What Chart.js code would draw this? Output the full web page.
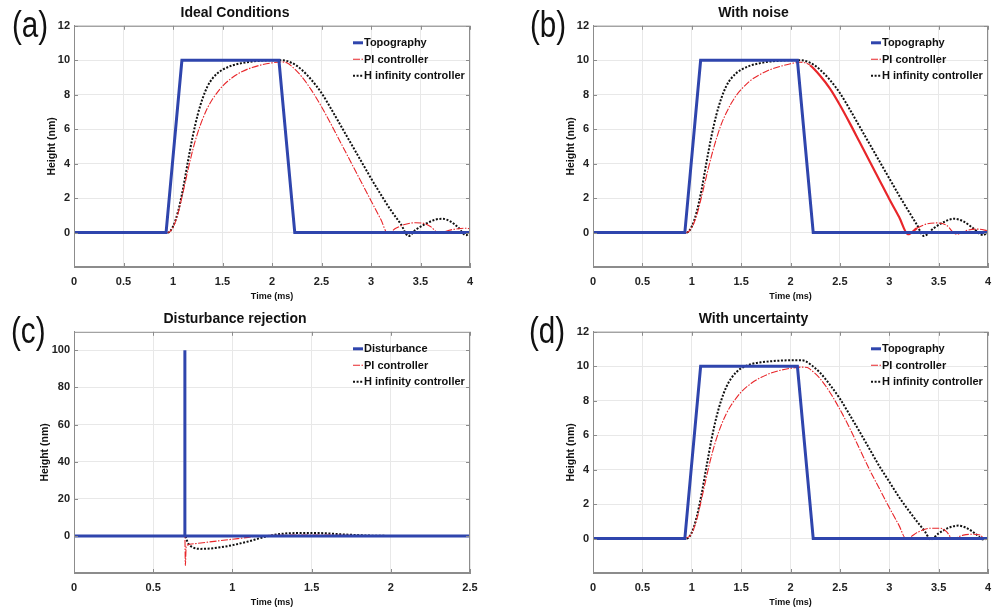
<!DOCTYPE html>
<html>
<head>
<meta charset="utf-8">
<script src="https://cdn.jsdelivr.net/npm/chart.js@4.4.1/dist/chart.umd.min.js"></script>
<style>
  body { margin: 0; background: #fff; }
  #wrap { position: relative; width: 992px; height: 612px; overflow: hidden; }
  canvas { position: absolute; }
  .tag { position: absolute; font-family: 'Liberation Sans', Arial, sans-serif;
         font-size: 37px; line-height: 1; color: #111; transform: scaleX(0.8); transform-origin: 0 0; }
</style>
</head>
<body>
<div id="wrap">
  <canvas id="chartA" width="496" height="306" style="left:0;top:0"></canvas>
  <canvas id="chartB" width="473" height="306" style="left:519px;top:0"></canvas>
  <canvas id="chartC" width="496" height="306" style="left:0;top:306px"></canvas>
  <canvas id="chartD" width="473" height="306" style="left:519px;top:306px"></canvas>
  <div class="tag" style="left:12px;top:6px">(a)</div>
  <div class="tag" style="left:530px;top:6px">(b)</div>
  <div class="tag" style="left:11px;top:312px">(c)</div>
  <div class="tag" style="left:529px;top:312px">(d)</div>
</div>
<script>
// titles and legend labels
const panelTitles = ['Ideal Conditions', 'With noise', 'Disturbance rejection', 'With uncertainty'];
const legendTopo = ['Topography', 'PI controller', 'H infinity controller'];
const legendDist = ['Disturbance', 'PI controller', 'H infinity controller'];

// ticks
const xTicksLong = [0, 0.5, 1, 1.5, 2, 2.5, 3, 3.5, 4];
const xTicksShort = [0, 0.5, 1, 1.5, 2, 2.5];
const yTicksHeight = [0, 2, 4, 6, 8, 10, 12];
const yTicksDist = [0, 20, 40, 60, 80, 100];

// topography step (same in a, b, d)
const timeTopo = [0, 0.93, 1.09, 2.07, 2.23, 4];
const topography = [0, 0, 10, 10, 0, 0];

// (a) ideal conditions
const timePiA = [0, 0.5, 0.95, 1.0, 1.05, 1.1, 1.15, 1.2, 1.25, 1.3, 1.35, 1.4, 1.45, 1.5, 1.6, 1.7, 1.8, 1.9, 2.0, 2.1, 2.15, 2.2, 2.3, 2.4, 2.5, 2.6, 2.7, 2.8, 2.9, 3.0, 3.1, 3.17, 3.25, 3.35, 3.45, 3.52, 3.6, 3.69, 3.78, 3.88, 3.95, 4.0];
const piA = [0, 0, 0, 0.3, 1.1, 2.3, 3.6, 4.8, 5.8, 6.6, 7.25, 7.75, 8.15, 8.5, 9.0, 9.35, 9.58, 9.74, 9.85, 9.9, 9.85, 9.65, 9.05, 8.25, 7.3, 6.25, 5.15, 4.05, 2.95, 1.85, 0.75, -0.05, 0.25, 0.48, 0.57, 0.55, 0.35, -0.05, 0.12, 0.22, 0.25, 0.22];
const timeHinfA = [0, 0.5, 0.95, 1.0, 1.05, 1.1, 1.15, 1.2, 1.25, 1.3, 1.35, 1.4, 1.45, 1.5, 1.6, 1.7, 1.8, 1.9, 2.0, 2.1, 2.2, 2.3, 2.4, 2.5, 2.6, 2.7, 2.8, 2.9, 3.0, 3.1, 3.2, 3.3, 3.38, 3.45, 3.55, 3.65, 3.72, 3.8, 3.88, 3.96, 4.0];
const hinfA = [0, 0, 0, 0.35, 1.2, 2.5, 4.1, 5.6, 6.85, 7.8, 8.5, 8.95, 9.25, 9.45, 9.7, 9.84, 9.93, 9.98, 10.0, 10.0, 9.85, 9.45, 8.85, 8.1, 7.15, 6.15, 5.15, 4.15, 3.15, 2.2, 1.3, 0.5, -0.2, 0.15, 0.5, 0.75, 0.8, 0.65, 0.3, -0.15, 0.0];

// (b) with noise
const timePiB = [0, 0.5, 0.95, 1.0, 1.05, 1.1, 1.15, 1.2, 1.25, 1.3, 1.35, 1.4, 1.45, 1.5, 1.6, 1.7, 1.8, 1.9, 2.0, 2.1, 2.15, 2.2, 2.3, 2.4, 2.5, 2.6, 2.7, 2.8, 2.9, 3.0, 3.1, 3.19, 3.28, 3.38, 3.49, 3.58, 3.68, 3.78, 3.9, 4.0];
const piB = [-0.05, -0.05, 0, 0.3, 1.0, 2.1, 3.3, 4.45, 5.45, 6.3, 6.95, 7.5, 7.95, 8.3, 8.85, 9.2, 9.47, 9.65, 9.8, 9.88, 9.85, 9.7, 9.1, 8.35, 7.4, 6.35, 5.25, 4.15, 3.05, 1.95, 0.9, -0.1, 0.25, 0.5, 0.56, 0.42, -0.1, 0.12, 0.2, 0.1];
const timeHinfB = [0, 0.5, 0.95, 1.0, 1.05, 1.1, 1.15, 1.2, 1.25, 1.3, 1.35, 1.4, 1.45, 1.5, 1.6, 1.7, 1.8, 1.9, 2.0, 2.1, 2.2, 2.3, 2.4, 2.5, 2.6, 2.7, 2.8, 2.9, 3.0, 3.1, 3.2, 3.28, 3.35, 3.45, 3.55, 3.66, 3.75, 3.85, 3.95, 4.0];
const hinfB = [0, 0, 0, 0.35, 1.2, 2.5, 4.1, 5.6, 6.85, 7.8, 8.5, 8.95, 9.25, 9.45, 9.7, 9.84, 9.93, 9.98, 10.0, 10.0, 9.85, 9.45, 8.85, 8.1, 7.15, 6.15, 5.15, 4.15, 3.15, 2.15, 1.2, 0.45, -0.2, 0.25, 0.6, 0.8, 0.65, 0.25, -0.15, 0.05];

// (c) disturbance rejection
const timeDist = [0, 0.7, 0.7, 0.7, 2.5];
const disturbance = [0, 0, 100, 0, 0];
const timePiC = [0, 0.7, 0.703, 0.708, 0.73, 0.8, 0.9, 1.0, 1.1, 1.17, 1.3, 1.5, 1.7, 2.0, 2.5];
const piC = [0, 0, -16, -6, -4.5, -3.8, -2.8, -1.8, -0.8, 0, 0.3, 0.5, 0.3, 0.1, 0];
const timeHinfC = [0, 0.7, 0.72, 0.75, 0.8, 0.86, 0.95, 1.0, 1.1, 1.2, 1.3, 1.4, 1.55, 1.7, 1.85, 2.0, 2.5];
const hinfC = [0, 0, -4, -6.2, -7, -6.8, -5.8, -5, -3, -0.6, 1, 1.5, 1.5, 0.8, 0.2, 0, 0];

// (d) with uncertainty
const timePiD = [0, 0.5, 0.95, 1.0, 1.05, 1.1, 1.15, 1.2, 1.25, 1.3, 1.35, 1.4, 1.45, 1.5, 1.6, 1.7, 1.8, 1.9, 2.0, 2.1, 2.17, 2.2, 2.3, 2.4, 2.5, 2.6, 2.7, 2.8, 2.9, 3.0, 3.1, 3.17, 3.3, 3.42, 3.52, 3.58, 3.64, 3.75, 3.85, 3.92, 3.97, 4.0];
const piD = [0.05, 0.05, 0.05, 0.3, 1.1, 2.3, 3.6, 4.8, 5.8, 6.6, 7.25, 7.75, 8.15, 8.5, 9.0, 9.35, 9.6, 9.77, 9.88, 9.95, 9.93, 9.82, 9.28, 8.48, 7.5, 6.4, 5.2, 4.0, 2.9, 1.8, 0.75, 0.0, 0.4, 0.6, 0.6, 0.4, 0.0, 0.2, 0.25, 0.2, -0.05, 0];
const timeHinfD = [0, 0.5, 0.95, 1.0, 1.05, 1.1, 1.15, 1.2, 1.25, 1.3, 1.35, 1.4, 1.45, 1.5, 1.6, 1.7, 1.8, 1.9, 2.0, 2.1, 2.15, 2.2, 2.3, 2.4, 2.5, 2.6, 2.7, 2.8, 2.9, 3.0, 3.1, 3.2, 3.3, 3.36, 3.42, 3.5, 3.6, 3.7, 3.78, 3.88, 3.95, 4.0];
const hinfD = [0, 0, 0, 0.35, 1.25, 2.6, 4.2, 5.75, 7.05, 8.05, 8.8, 9.3, 9.65, 9.88, 10.12, 10.23, 10.29, 10.33, 10.35, 10.35, 10.3, 10.12, 9.62, 8.92, 8.12, 7.17, 6.2, 5.2, 4.2, 3.3, 2.4, 1.6, 0.85, 0.42, -0.05, 0.3, 0.62, 0.75, 0.62, 0.25, -0.05, 0];

const FONT = "'Liberation Sans', Arial, sans-serif";
const BLUE = '#2f45ad';
const RED = '#e8262a';
const BOXGRAY = '#8c8c8c';
const PIDASH = [7, 1.5, 1.5, 1.5];

function zip(t, y) {
    return t.map((x, i) => ({ x: x, y: y[i] }));
}

function stepSet(label, t, y) {
    return { label: label, data: zip(t, y), borderColor: BLUE, borderWidth: 3, tension: 0, pointRadius: 0 };
}
function piSet(label, t, y, extra) {
    return Object.assign({ label: label, data: zip(t, y), borderColor: RED, borderWidth: 1.1,
        borderDash: PIDASH, cubicInterpolationMode: 'monotone', pointRadius: 0 }, extra || {});
}
function hinfSet(label, t, y) {
    return { label: label, data: zip(t, y), borderColor: '#111', borderWidth: 2,
        borderDash: [2, 1.6], cubicInterpolationMode: 'monotone', pointRadius: 0 };
}

// box, inner ticks and legend drawn over the plot, MATLAB style
const matlabBits = {
    id: 'matlabBits',
    afterDraw(chart) {
        const { ctx, chartArea: a, scales } = chart;
        ctx.save();
        ctx.strokeStyle = BOXGRAY;
        ctx.lineWidth = 1;
        ctx.setLineDash([]);
        ctx.strokeRect(a.left + 0.5, a.top + 0.5, a.right - a.left - 1, a.bottom - a.top - 1);
        ctx.beginPath();
        scales.x.ticks.forEach(t => {
            const px = Math.round(scales.x.getPixelForValue(t.value)) + 0.5;
            ctx.moveTo(px, a.bottom); ctx.lineTo(px, a.bottom - 4);
            ctx.moveTo(px, a.top); ctx.lineTo(px, a.top + 4);
        });
        scales.y.ticks.forEach(t => {
            const py = Math.round(scales.y.getPixelForValue(t.value)) + 0.5;
            ctx.moveTo(a.left, py); ctx.lineTo(a.left + 4, py);
            ctx.moveTo(a.right, py); ctx.lineTo(a.right - 4, py);
        });
        ctx.stroke();

        // legend, top right inside the axes
        const x0 = a.right - 117;
        ctx.font = 'bold 11px ' + FONT;
        ctx.textBaseline = 'middle';
        chart.data.datasets.forEach((ds, i) => {
            const y = a.top + 17 + i * 16.5;
            ctx.strokeStyle = ds.borderColor;
            ctx.lineWidth = ds.borderWidth;
            ctx.setLineDash(ds.borderDash || []);
            ctx.beginPath();
            ctx.moveTo(x0, y); ctx.lineTo(x0 + 10, y);
            ctx.stroke();
            ctx.fillStyle = '#111';
            ctx.fillText(ds.label, x0 + 11, y + 0.5);
        });
        ctx.restore();
    }
};

function makeChart(id, title, datasets, xTicks, xMax, yTicks, yMin, yMax, rightPad, yTitleGap) {
    return new Chart(document.getElementById(id), {
        type: 'line',
        data: { datasets: datasets },
        options: {
            responsive: false,
            animation: false,
            devicePixelRatio: 1,
            layout: { padding: { left: 0, right: rightPad, top: 0, bottom: 0 } },
            plugins: {
                legend: { display: false },
                tooltip: { enabled: false },
                title: { display: true, text: title, color: '#111',
                    font: { family: FONT, size: 14, weight: 'bold' }, padding: { top: 5, bottom: 4 } }
            },
            scales: {
                x: {
                    type: 'linear', min: 0, max: xMax,
                    afterBuildTicks: s => { s.ticks = xTicks.map(v => ({ value: v })); },
                    afterFit: s => { s.height = 39; s.paddingRight = 0; },
                    ticks: { color: '#222', padding: 8, callback: v => String(v),
                        font: { family: FONT, size: 11, weight: 'bold' } },
                    grid: { color: '#e8e8e8', drawTicks: false },
                    border: { display: true, color: BOXGRAY },
                    title: { display: true, text: 'Time (ms)', color: '#111',
                        font: { family: FONT, size: 9, weight: 'bold' }, padding: { top: 0, bottom: 4 } }
                },
                y: {
                    type: 'linear', min: yMin, max: yMax,
                    afterBuildTicks: s => { s.ticks = yTicks.map(v => ({ value: v })); },
                    afterFit: s => { s.width = 74; },
                    ticks: { color: '#222', padding: 4, callback: v => String(v),
                        font: { family: FONT, size: 11, weight: 'bold' } },
                    grid: { color: '#e8e8e8', drawTicks: false },
                    border: { display: true, color: BOXGRAY },
                    title: { display: true, text: 'Height (nm)', color: '#111',
                        font: { family: FONT, size: 10.5, weight: 'bold' },
                        padding: { top: yTitleGap, bottom: 0 } }
                }
            }
        },
        plugins: [matlabBits]
    });
}

makeChart('chartA', panelTitles[0], [
    stepSet(legendTopo[0], timeTopo, topography),
    piSet(legendTopo[1], timePiA, piA),
    hinfSet(legendTopo[2], timeHinfA, hinfA)
], xTicksLong, 4, yTicksHeight, -2, 12, 26, 46);

makeChart('chartB', panelTitles[1], [
    stepSet(legendTopo[0], timeTopo, topography),
    piSet(legendTopo[1], timePiB, piB, {
        segment: {
            borderWidth: c => (c.p0.parsed.x >= 2.2 && c.p0.parsed.x < 3.2) ? 2.2 : 1.1,
            borderDash: c => (c.p0.parsed.x >= 2.2 && c.p0.parsed.x < 3.2) ? [] : PIDASH
        }
    }),
    hinfSet(legendTopo[2], timeHinfB, hinfB)
], xTicksLong, 4, yTicksHeight, -2, 12, 4, 46);

makeChart('chartC', panelTitles[2], [
    stepSet(legendDist[0], timeDist, disturbance),
    piSet(legendDist[1], timePiC, piC),
    hinfSet(legendDist[2], timeHinfC, hinfC)
], xTicksShort, 2.5, yTicksDist, -20, 110, 26, 39);

makeChart('chartD', panelTitles[3], [
    stepSet(legendTopo[0], timeTopo, topography),
    piSet(legendTopo[1], timePiD, piD),
    hinfSet(legendTopo[2], timeHinfD, hinfD)
], xTicksLong, 4, yTicksHeight, -2, 12, 4, 46);
</script>
</body>
</html>
